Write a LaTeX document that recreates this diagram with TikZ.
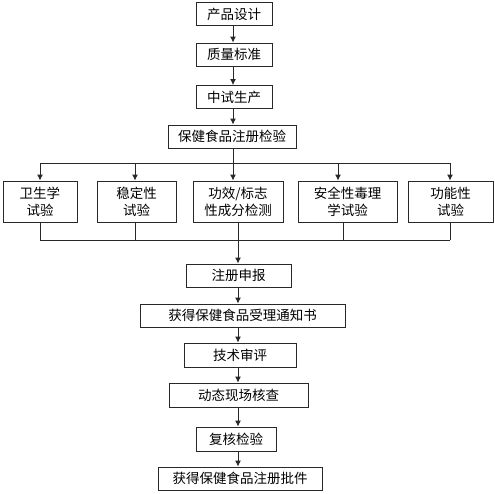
\documentclass[tikz,border=0pt]{standalone}
\usepackage{fontspec}
\usepackage{tikz}
\usetikzlibrary{positioning, arrows.meta}
\newfontfamily\cjk{Noto Sans CJK SC}
\definecolor{flLine}{RGB}{40, 40, 40}
\definecolor{flText}{RGB}{0, 0, 0}
\tikzset{
    base/.style={
        font={\cjk\fontsize{13.5}{17}\selectfont},
        align=center,
        text=flText
    },
    stage/.style={
        base,
        rectangle,
        draw=flLine,
        line width=0.9pt,
        fill=white,
        inner sep=0pt,
        minimum height=23pt
    },
    test/.style={
        stage,
        minimum height=41pt
    },
    wire/.style={
        line width=0.9pt,
        color=flLine
    },
    flow/.style={
        wire,
        ->,
        >={Latex[length=6pt, width=6pt]}
    }
}
\begin{document}
\begin{tikzpicture}[x=1pt, y=-1pt]
  \useasboundingbox (0,0) rectangle (495,493);
  % upper chain
  \node[stage, minimum width=76pt] (design) at (234,14) {产品设计};
  \node[stage, minimum width=76pt] (standard) at (234,54.5) {质量标准};
  \node[stage, minimum width=76pt] (pilot) at (234,97) {中试生产};
  \node[stage, minimum width=128pt] (regtest) at (232,136.5) {保健食品注册检验};

  % the five tests
  \node[test, minimum width=74pt] (hyg) at (40,201.5) {卫生学\\试验};
  \node[test, minimum width=79pt] (stab) at (136.5,201.5) {稳定性\\试验};
  \node[test, minimum width=90pt] (effi) at (238,201.5) {功效/标志\\性成分检测};
  \node[test, minimum width=99pt] (safe) at (347.5,201.5) {安全性毒理\\学试验};
  \node[test, minimum width=85pt] (func) at (450.5,201.5) {功能性\\试验};

  % lower chain
  \node[stage, minimum width=105pt] (report) at (238.5,275.5) {注册申报};
  \node[stage, minimum width=205pt] (notice) at (242.5,315.5) {获得保健食品受理通知书};
  \node[stage, minimum width=112pt, minimum height=24pt] (review) at (240,355) {技术审评};
  \node[stage, minimum width=139pt, minimum height=24pt] (inspect) at (238.5,395) {动态现场核查};
  \node[stage, minimum width=80pt, minimum height=24pt] (recheck) at (236,439) {复核检验};
  \node[stage, minimum width=164pt] (approval) at (240,478.5) {获得保健食品注册批件};

  % split and join
  \foreach \n/\x/\y in {hyg/40/40, stab/135/135, effi/233/238, safe/338/343, func/450/450} {
    \coordinate (in-\n) at (\x,163);
    \coordinate (out-\n) at (\y,240);
    \draw[flow] (in-\n) -- (in-\n |- \n.north);
    \draw[wire] (out-\n |- \n.south) -- (out-\n);
  }
  \draw[wire] (in-hyg) -- (in-func);
  \draw[wire] (out-hyg) -- (out-func);
  \draw[wire] (regtest.south -| in-effi) -- (in-effi);
  \draw[flow] (out-effi) -- (out-effi |- report.north);

  \foreach \a/\b in {design/standard, standard/pilot, pilot/regtest}
    \draw[flow] (\a.south -| in-effi) -- (\b.north -| in-effi);
  \foreach \a/\b in {report/notice, notice/review, review/inspect, inspect/recheck, recheck/approval}
    \draw[flow] (\a.south -| out-effi) -- (\b.north -| out-effi);
\end{tikzpicture}
\end{document}
